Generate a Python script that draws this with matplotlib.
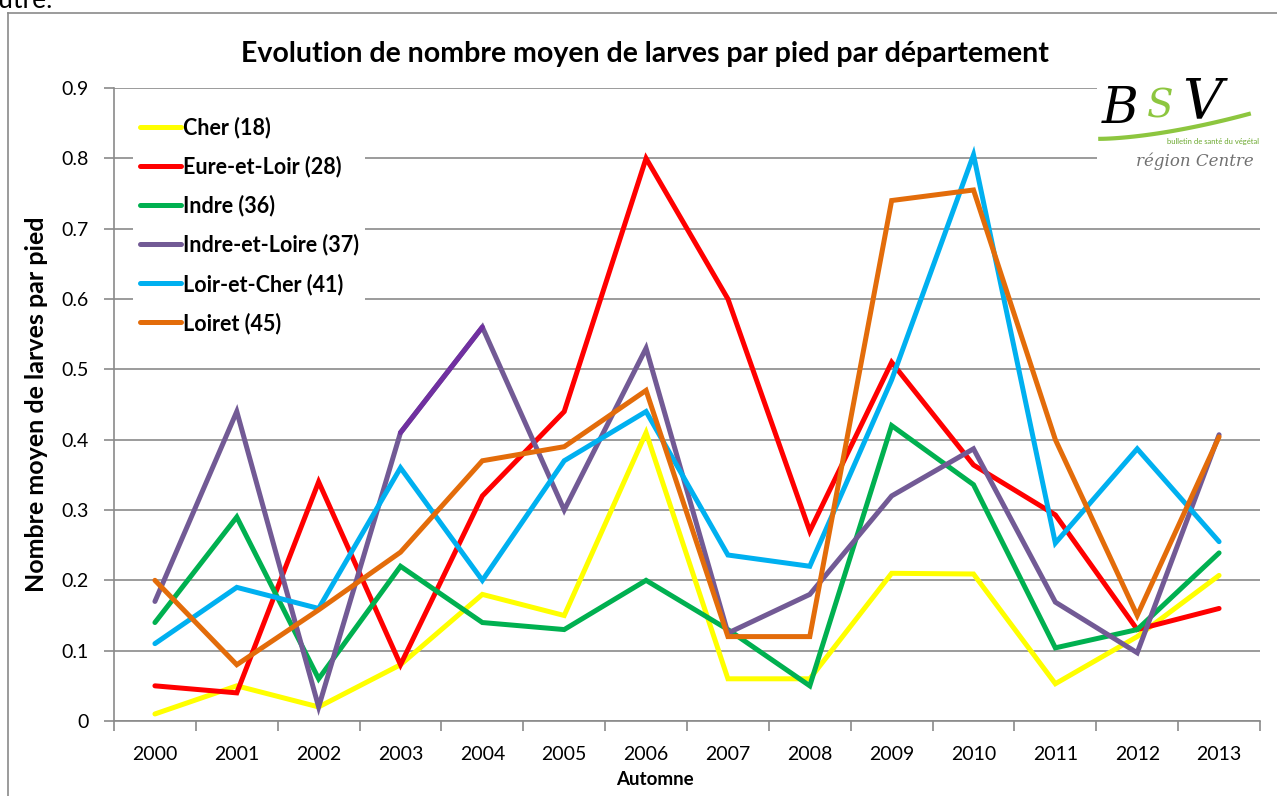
import numpy as np
import matplotlib.pyplot as plt
import matplotlib

matplotlib.rcParams['font.family'] = ['Lato', 'DejaVu Sans']

years = ['2000', '2001', '2002', '2003', '2004', '2005', '2006',
         '2007', '2008', '2009', '2010', '2011', '2012', '2013']

cher = [0.01, 0.05, 0.02, 0.08, 0.18, 0.15, 0.41, 0.06, 0.06, 0.21, 0.209, 0.053, 0.12, 0.207]
eure_et_loir = [0.05, 0.04, 0.34, 0.08, 0.32, 0.44, 0.80, 0.60, 0.27, 0.51, 0.364, 0.293, 0.13, 0.16]
indre = [0.14, 0.29, 0.06, 0.22, 0.14, 0.13, 0.20, 0.13, 0.05, 0.42, 0.336, 0.104, 0.13, 0.239]
indre_et_loire = [0.17, 0.44, 0.02, 0.41, 0.56, 0.30, 0.53, 0.125, 0.18, 0.32, 0.387, 0.169, 0.097, 0.407]
loir_et_cher = [0.11, 0.19, 0.16, 0.36, 0.20, 0.37, 0.44, 0.236, 0.22, 0.485, 0.805, 0.253, 0.387, 0.255]
loiret = [0.20, 0.08, 0.158, 0.24, 0.37, 0.39, 0.47, 0.12, 0.12, 0.74, 0.755, 0.40, 0.15, 0.404]

series = [
    ('Cher (18)', cher, '#FFFF00'),
    ('Eure-et-Loir (28)', eure_et_loir, '#FF0000'),
    ('Indre (36)', indre, '#00B050'),
    ('Indre-et-Loire (37)', indre_et_loire, '#725A95'),
    ('Loir-et-Cher (41)', loir_et_cher, '#00B0F0'),
    ('Loiret (45)', loiret, '#E36C0A'),
]

W, H = 1277, 796
fig = plt.figure(figsize=(W / 100, H / 100), dpi=100)

# cut-off text from the page above the chart + chart frame
fig.text(-0.012, 1 - 8 / H, 'autre.', fontsize=19, va='baseline', ha='left')
fig.add_artist(plt.Line2D([8 / W, 8 / W], [0, 1 - 13 / H], color='#8a8a8a', lw=1.2))
fig.add_artist(plt.Line2D([8 / W, 1], [1 - 13 / H, 1 - 13 / H], color='#8a8a8a', lw=1.2))

ax = fig.add_axes([114 / W, 75 / H, 1146 / W, 633 / H])
x = np.arange(len(years))
for name, vals, col in series:
    ax.plot(x, vals, color=col, lw=3.6, label=name, solid_capstyle='round',
            solid_joinstyle='miter')
# darker purple segment 2003-2004
ax.plot(x[3:5], indre_et_loire[3:5], color='#7030A0', lw=3.6, solid_capstyle='round')

ax.set_xlim(-0.5, len(years) - 0.5)
ax.set_ylim(0, 0.9)
ax.set_yticks(np.arange(0, 0.91, 0.1))
ax.set_yticklabels(['0'] + ['%.1f' % v for v in np.arange(0.1, 0.91, 0.1)])
ax.yaxis.grid(True, color='#8a8a8a', lw=1.2)
ax.set_axisbelow(True)
for s in ['top', 'right']:
    ax.spines[s].set_visible(False)
for s in ['left', 'bottom']:
    ax.spines[s].set_color('#8a8a8a')
    ax.spines[s].set_linewidth(1.2)

ax.set_xticks(np.arange(-0.5, len(years), 1.0))
ax.set_xticklabels([])
ax.set_xticks(x, minor=True)
ax.set_xticklabels(years, minor=True)
ax.tick_params(axis='x', which='major', length=7, color='#8a8a8a', width=1.2)
ax.tick_params(axis='x', which='minor', length=0, labelsize=14, pad=18)
ax.tick_params(axis='y', length=7, color='#8a8a8a', width=1.2, labelsize=14, pad=11)

ax.set_xlabel('Automne', fontsize=13.5, fontweight='bold')
ax.xaxis.set_label_coords(0.472, -50 / 633)
ax.set_ylabel('Nombre moyen de larves par pied', fontsize=18, fontweight='bold')
ax.yaxis.set_label_coords(-66 / 1146, 0.5)
fig.text(645 / W, 1 - 54 / H, 'Evolution de nombre moyen de larves par pied par département',
         fontsize=20.5, fontweight='bold', ha='center', va='center')

leg = ax.legend(loc='upper left', bbox_to_anchor=(0.017, 0.965), frameon=True,
                fancybox=False, edgecolor='none', facecolor='white', framealpha=1,
                prop={'weight': 'bold', 'size': 15.5}, handlelength=1.9,
                handletextpad=0.1, labelspacing=0.81, borderpad=0.3, borderaxespad=0)

# BSV logo (approximation)
lg = fig.add_axes([1097 / W, 1 - 175 / H, 165 / W, 113 / H])
lg.set_xlim(0, 1)
lg.set_ylim(0, 1)
lg.set_facecolor('white')
for s in lg.spines.values():
    s.set_visible(False)
lg.set_xticks([])
lg.set_yticks([])
t = np.linspace(0, 1, 50)
lg.plot(0.02 + 0.9 * t, 0.32 + 0.22 * t ** 1.6, color='#8DC63F', lw=3)
lg.text(0.14, 0.58, 'B', fontsize=36, style='italic', color='black', ha='center', va='center',
        family='DejaVu Serif')
lg.text(0.38, 0.6, 'S', fontsize=28, style='italic', color='#8DC63F', ha='center', va='center',
        family='DejaVu Serif')
lg.text(0.64, 0.64, 'V', fontsize=40, style='italic', color='black', ha='center', va='center',
        family='DejaVu Serif')
lg.text(0.98, 0.3, 'bulletin de santé du végétal', fontsize=5.5, color='#6BA82E', ha='right',
        va='center')
lg.text(0.95, 0.12, 'région Centre', fontsize=12, style='italic', color='#707070', ha='right',
        va='center', family='DejaVu Serif')

fig.savefig('out.png', dpi=100)
